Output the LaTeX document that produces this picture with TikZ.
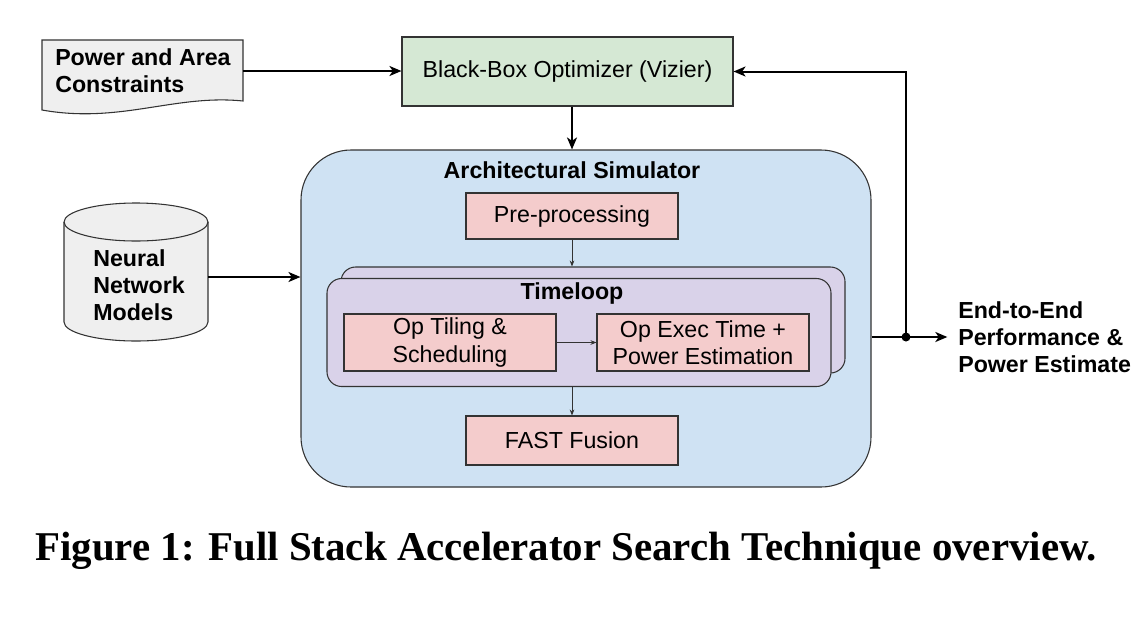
\documentclass[tikz,border=0pt]{standalone}
\usepackage{fontspec}
\setmainfont{Liberation Sans}
\newfontfamily\capfont{Liberation Serif}
\usetikzlibrary{arrows.meta,calc}
\definecolor{optgreen}{HTML}{D5E8D4}
\definecolor{simblue}{HTML}{CFE2F3}
\definecolor{tlpurple}{HTML}{D9D2E9}
\definecolor{boxpink}{HTML}{F4CCCC}
\definecolor{docgray}{HTML}{EFEFEF}
\definecolor{edge}{HTML}{333333}
\tikzset{
  dtext/.style={font=\fontsize{17.4}{20.4}\selectfont, align=center, inner sep=0pt},
  btext/.style={font=\fontsize{17.4}{20.4}\selectfont\bfseries, align=left, inner sep=0pt},
  pinkbox/.style={draw=edge, line width=0.8pt, fill=boxpink, minimum width=212*0.75pt, dtext},
  arr/.style={line width=1.5pt, -{Stealth[length=9pt,width=7.5pt,inset=2.5pt]}},
  thinarr/.style={line width=0.6pt, edge, -{Stealth[length=4.5pt,width=3.5pt]}},
}
\begin{document}
\begin{tikzpicture}[x=0.75pt,y=-0.75pt]
\useasboundingbox (0,0) rectangle (1143,622);
\fill[white] (0,0) rectangle (1143,622);

% Power and Area Constraints (document shape)
\draw[edge, line width=0.8pt, fill=docgray]
  (42,40) -- (243,40) -- (243,101)
  .. controls (175,94) and (120,124) .. (42,110) -- cycle;
\node[btext, anchor=west] (cons) at (55,71) {Power and Area\\Constraints};
\coordinate (consE) at (243,71);

% Optimizer
\node[draw=edge, line width=0.8pt, fill=optgreen, minimum width=331*0.75pt, minimum height=69*0.75pt, dtext] (opt) at (567.5,71.5) {Black-Box Optimizer (Vizier)};

% Neural Network Models (cylinder)
\draw[edge, line width=0.8pt, fill=docgray]
  (64,222) -- (64,322) arc[start angle=180, end angle=360, x radius=72, y radius=-19] -- (208,222)
  arc[start angle=0, end angle=180, x radius=72, y radius=-19];
\draw[edge, line width=0.8pt] (64,222) arc[start angle=180, end angle=360, x radius=72, y radius=-19];
\node[btext, anchor=west] (nn) at (93,285) {Neural\\Network\\Models};
\coordinate (cylE) at (208,277);

% Architectural simulator
\node[draw=edge, line width=0.8pt, fill=simblue, rounded corners=37.5pt, minimum width=570*0.75pt, minimum height=337*0.75pt] (sim) at (586,318.5) {};
\node[btext] (simt) at (572,170) {Architectural Simulator};

\node[pinkbox, minimum height=46*0.75pt] (pre) at (572,216) {Pre-processing};

% Timeloop stack
\node[draw=edge, line width=0.8pt, fill=tlpurple, rounded corners=11pt, minimum width=504*0.75pt, minimum height=106*0.75pt] (back) at (593,320) {};
\node[draw=edge, line width=0.8pt, fill=tlpurple, rounded corners=11pt, minimum width=504*0.75pt, minimum height=108*0.75pt] (front) at (579,332.5) {};
\node[btext] (tlt) at (572,293) {Timeloop};
\node[pinkbox, minimum height=57*0.75pt] (tile) at (450,342.5) {Op Tiling \&\\Scheduling};
\node[pinkbox, minimum height=57*0.75pt] (exec) at (703,342.5) {Op Exec Time +\\Power Estimation};

\node[pinkbox, minimum height=49*0.75pt] (fast) at (572,440.5) {FAST Fusion};

% Output label
\node[btext, anchor=west] (out) at (958,337) {End-to-End\\Performance \&\\Power Estimate};
\coordinate (j) at (906,337);

% Connectors
\draw[arr] (consE) -- (opt.west |- consE);
\draw[arr] (opt.south -| pre) -- (sim.north -| pre);
\draw[arr] (cylE) -- (sim.west |- cylE);
\draw[thinarr] (pre.south) -- (back.north -| pre);
\draw[thinarr] (tile.east) -- (exec.west);
\draw[thinarr] (front.south -| fast) -- (fast.north);
\draw[arr] (sim.east |- j) -- ([xshift=-8pt]out.west);
\draw[arr] (j) |- (opt.east);
\fill (j) circle[radius=4.5];

% Caption
\node (cap) at (566,551) {\resizebox{796pt}{!}{\capfont\bfseries Figure 1: Full Stack Accelerator Search Technique overview.}};
\end{tikzpicture}
\end{document}
